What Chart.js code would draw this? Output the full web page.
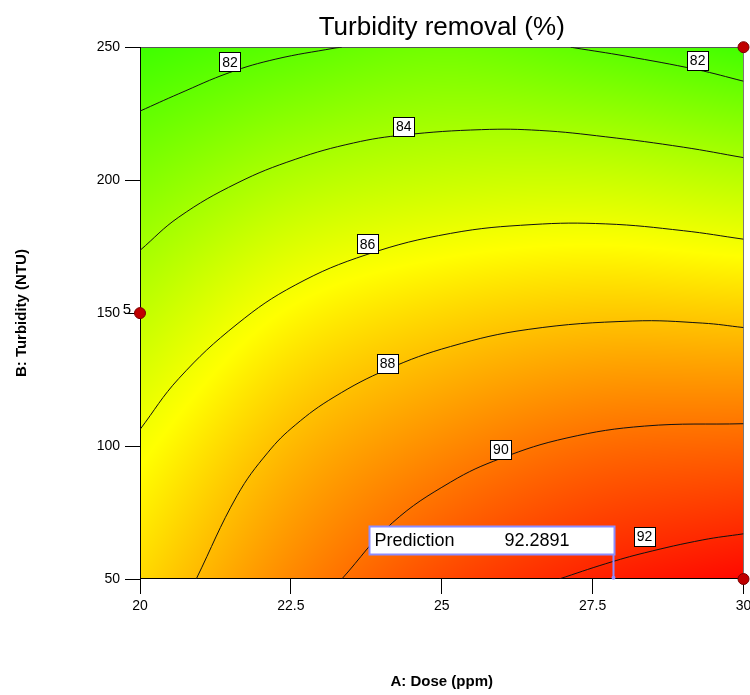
<!DOCTYPE html>
<html><head><meta charset="utf-8">
<script src="https://cdn.jsdelivr.net/npm/chart.js@4/dist/chart.umd.min.js"></script>
<style>html,body{margin:0;padding:0;background:#fff}#wrap{width:750px;height:695px;position:relative}</style>
</head><body><div id="wrap"><canvas id="c" width="750" height="695"></canvas></div>
<script>
// ---- data ----
const chartTitle = 'Turbidity removal (%)';
const xTitle = 'A: Dose (ppm)';
const yTitle = 'B: Turbidity (NTU)';
const doseTicks = [20, 22.5, 25, 27.5, 30];
const turbTicks = [50, 100, 150, 200, 250];

// response values estimated on a coarse grid (rows: turbidity 50..250, cols: dose 20..30)
const gridDose = [20, 22.5, 25, 27.5, 30];
const gridTurb = [50, 100, 150, 200, 250];
const gridValues = [
  [87.4, 89.5, 91.1, 92.15, 92.8],
  [86.2, 88.2, 89.4, 90.2, 90.4],
  [84.7, 86.5, 87.4, 87.8, 87.7],
  [83.0, 84.3, 84.9, 85.0, 84.55],
  [81.1, 81.9, 82.5, 81.95, 81.2]
];

// contour lines [dose, turbidity]
const contour82a = [[20,225.97],[20.643,232.49],[21.479,240.42],[22.251,245.53],[23.215,249.62],[23.344,250]];
const contour82b = [[27.138,250],[27.203,249.74],[28.039,246.68],[29.228,241.57],[30,237.22]];
const contour84 = [[20,173.58],[20.643,186.10],[21.608,198.88],[22.572,207.83],[23.537,213.98],[24.373,217.0],[25.659,219.0],[26.624,218.7],[27.717,216.3],[29.003,212.4],[30,208.47]];
const contour86 = [[20,106.23],[20.643,125.40],[21.608,145.85],[22.572,160.54],[23.762,172.04],[25.145,179.97],[26.495,183.29],[27.717,183.55],[29.003,180.99],[30,177.80]];
const contour88 = [[20.932,50],[21.608,81.31],[22.122,97.67],[22.572,107.89],[23.215,118.42],[24.096,128.84],[25.145,137.43],[26.431,143.86],[28.167,147.02],[29.325,146.23],[30,144.57]];
const contour90 = [[23.344,50],[24.180,71.09],[25.145,86.42],[25.981,95.37],[27.074,103.04],[28.360,107.51],[30,108.40]];
const contour92 = [[26.945,50],[27.717,55.75],[28.360,59.84],[29.325,64.70],[30,67.0]];
const contours = [contour82a, contour82b, contour84, contour86, contour88, contour90, contour92];

// contour labels
const labelText = ['82', '82', '84', '86', '88', '90', '92'];
const labelDose = [21.49, 29.24, 24.37, 23.77, 24.10, 25.98, 28.36];
const labelTurb = [244.5, 245.1, 220.2, 176.1, 131.2, 98.8, 66.0];

// design points
const designDose = [30, 20, 30];
const designTurb = [250, 150, 50];
const designNote = ['', '5', ''];

// prediction flag
const predDose = 27.85;
const predTurb = 50.5;
const predLabel = 'Prediction';
const predValue = '92.2891';

// colour ramp stops: value -> rgb
const rampValues = [79.4, 86.4, 93.0];
const rampColors = [[0,255,0],[255,255,0],[255,0,0]];

// ---- helpers ----
function cr(p0, p1, p2, p3, t) {
  const t2 = t*t, t3 = t2*t;
  return 0.5*((2*p1) + (-p0+p2)*t + (2*p0-5*p1+4*p2-p3)*t2 + (-p0+3*p1-3*p2+p3)*t3);
}
function interpRow(row, f) {
  const n = row.length;
  let i = Math.floor(f); if (i < 0) i = 0; if (i > n-2) i = n-2;
  const t = f - i;
  const p0 = i-1 < 0 ? 2*row[0]-row[1] : row[i-1];
  const p3 = i+2 > n-1 ? 2*row[n-1]-row[n-2] : row[i+2];
  return cr(p0, row[i], row[i+1], p3, t);
}
function fieldValue(d, b) {
  const fx = (d - gridDose[0]) / (gridDose[1]-gridDose[0]);
  const fy = (b - gridTurb[0]) / (gridTurb[1]-gridTurb[0]);
  const col = gridValues.map(r => interpRow(r, fx));
  return interpRow(col, fy);
}
function rampColor(v) {
  if (v <= rampValues[0]) return rampColors[0];
  for (let k = 0; k < rampValues.length-1; k++) {
    if (v <= rampValues[k+1]) {
      const t = (v - rampValues[k])/(rampValues[k+1]-rampValues[k]);
      const a = rampColors[k], c = rampColors[k+1];
      return [a[0]+(c[0]-a[0])*t, a[1]+(c[1]-a[1])*t, a[2]+(c[2]-a[2])*t];
    }
  }
  return rampColors[rampColors.length-1];
}

const FONT = "'Liberation Sans',Arial,sans-serif";
const BOLD = "'Liberation Sans',Arial,sans-serif";

const fieldPlugin = {
  id: 'field',
  beforeDatasetsDraw(chart) {
    const {ctx, chartArea: a, scales: {x, y}} = chart;
    const L = Math.round(a.left), T = Math.round(a.top);
    const w = Math.round(a.right) - L, h = Math.round(a.bottom) - T;
    const img = ctx.createImageData(w, h);
    const data = img.data;
    const xs = [];
    for (let i = 0; i < w; i++) xs.push(x.getValueForPixel(L + i + 0.5));
    for (let j = 0; j < h; j++) {
      const b = y.getValueForPixel(T + j + 0.5);
      for (let i = 0; i < w; i++) {
        const c = rampColor(fieldValue(xs[i], b));
        const o = (j*w + i)*4;
        data[o] = c[0]; data[o+1] = c[1]; data[o+2] = c[2]; data[o+3] = 255;
      }
    }
    ctx.putImageData(img, L, T);
    ctx.save();
    ctx.lineWidth = 1;
    ctx.strokeStyle = '#555';
    ctx.beginPath(); ctx.moveTo(L, T+0.5); ctx.lineTo(Math.round(a.right), T+0.5); ctx.stroke();
    ctx.strokeStyle = '#777';
    ctx.beginPath(); ctx.moveTo(Math.round(a.right)-0.5, T); ctx.lineTo(Math.round(a.right)-0.5, Math.round(a.bottom)); ctx.stroke();
    ctx.strokeStyle = '#000';
    ctx.beginPath(); ctx.moveTo(L+0.5, T); ctx.lineTo(L+0.5, Math.round(a.bottom)); ctx.stroke();
    ctx.beginPath(); ctx.moveTo(L, Math.round(a.bottom)-0.5); ctx.lineTo(Math.round(a.right), Math.round(a.bottom)-0.5); ctx.stroke();
    ctx.restore();
  },
  afterDatasetsDraw(chart) {
    const {ctx, scales: {x, y}} = chart;
    ctx.save();
    ctx.font = '14px ' + FONT;
    ctx.textAlign = 'center'; ctx.textBaseline = 'middle';
    for (let k = 0; k < labelText.length; k++) {
      const px = x.getPixelForValue(labelDose[k]), py = y.getPixelForValue(labelTurb[k]);
      const bw = 21, bh = 19;
      const bx = Math.round(px - bw/2) + 0.5, by = Math.round(py - bh/2) + 0.5;
      ctx.fillStyle = '#fff'; ctx.fillRect(bx, by, bw, bh);
      ctx.strokeStyle = '#000'; ctx.lineWidth = 1; ctx.strokeRect(bx, by, bw, bh);
      ctx.fillStyle = '#000'; ctx.fillText(labelText[k], px, py + 1);
    }
    ctx.font = '15px ' + FONT;
    ctx.textAlign = 'right';
    for (let k = 0; k < designNote.length; k++) {
      if (!designNote[k]) continue;
      ctx.fillText(designNote[k], x.getPixelForValue(designDose[k]) - 9, y.getPixelForValue(designTurb[k]) - 3);
    }
    const fx = x.getPixelForValue(predDose), fy = y.getPixelForValue(predTurb);
    const bw = 245, bh = 28;
    const bx = Math.round(fx - bw) + 0.5, by = Math.round(fy - 52) + 0.5;
    ctx.fillStyle = '#fff'; ctx.fillRect(bx, by, bw, bh);
    ctx.strokeStyle = '#8c8cff'; ctx.lineWidth = 2; ctx.strokeRect(bx, by, bw, bh);
    ctx.beginPath(); ctx.moveTo(Math.round(fx)-0.5, by + bh); ctx.lineTo(Math.round(fx)-0.5, fy); ctx.stroke();
    ctx.fillStyle = '#8c8cff'; ctx.beginPath(); ctx.arc(Math.round(fx)-0.5, fy, 2, 0, Math.PI*2); ctx.fill();
    ctx.fillStyle = '#000'; ctx.font = '18px ' + FONT; ctx.textAlign = 'left'; ctx.textBaseline = 'middle';
    ctx.fillText(predLabel, bx + 5, by + bh/2 + 1);
    ctx.fillText(predValue, bx + 135, by + bh/2 + 1);
    ctx.restore();
  }
};

const datasets = contours.map(c => ({
  data: c.map(p => ({x: p[0], y: p[1]})),
  showLine: true,
  borderColor: '#111',
  borderWidth: 1,
  pointRadius: 0,
  tension: 0.4
}));
datasets.push({
  data: designDose.map((d, i) => ({x: d, y: designTurb[i]})),
  showLine: false,
  pointRadius: 5.5,
  pointBackgroundColor: '#c00000',
  pointBorderColor: '#7a0000',
  pointBorderWidth: 1,
  clip: false
});

new Chart(document.getElementById('c'), {
  type: 'scatter',
  data: { datasets },
  plugins: [fieldPlugin],
  options: {
    responsive: false,
    animation: false,
    layout: { padding: { left: 0, right: 5, top: 0, bottom: 0 } },
    plugins: {
      legend: { display: false },
      tooltip: { enabled: false },
      title: {
        display: true, text: chartTitle, color: '#000', fullSize: false,
        font: { family: FONT, size: 26, weight: 'normal', lineHeight: 1.2 },
        padding: { top: 12, bottom: 4 }
      }
    },
    scales: {
      x: {
        type: 'linear', min: doseTicks[0], max: doseTicks[doseTicks.length-1],
        afterBuildTicks: s => { s.ticks = doseTicks.map(v => ({value: v})); },
        ticks: { color: '#000', font: { family: FONT, size: 14 }, padding: 4, maxRotation: 0, autoSkip: false,
                 callback: v => String(v) },
        grid: { display: true, drawOnChartArea: false, drawTicks: true, tickLength: 15, color: '#000' },
        border: { display: false },
        title: { display: true, text: xTitle, color: '#000', font: { family: BOLD, size: 15, weight: 'bold', lineHeight: 1.2 }, padding: { top: 0, bottom: 4 } },
        afterFit: s => { s.height = 116; s.paddingLeft = 0; s.paddingRight = 0; }
      },
      y: {
        type: 'linear', min: turbTicks[0], max: turbTicks[turbTicks.length-1],
        afterBuildTicks: s => { s.ticks = turbTicks.map(v => ({value: v})); },
        ticks: { color: '#000', font: { family: FONT, size: 14 }, padding: 5, autoSkip: false,
                 callback: v => String(v) },
        grid: { display: true, drawOnChartArea: false, drawTicks: true, tickLength: 15, color: '#000' },
        border: { display: false },
        title: { display: true, text: yTitle, color: '#000', font: { family: BOLD, size: 15, weight: 'bold', lineHeight: 1.2 }, padding: { top: 13, bottom: 0 } },
        afterFit: s => { s.width = 140; s.paddingTop = 0; s.paddingBottom = 0; }
      }
    }
  }
});
</script></body></html>
